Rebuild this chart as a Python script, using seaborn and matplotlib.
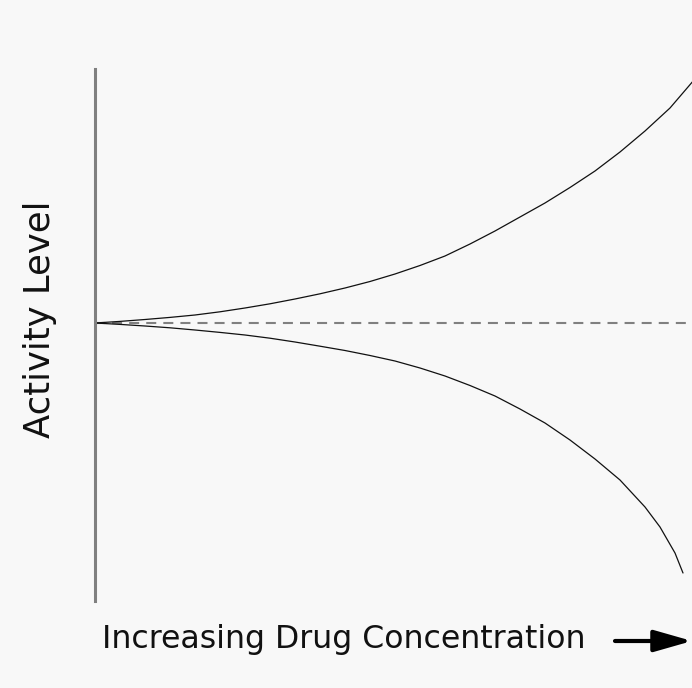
import matplotlib
matplotlib.use("Agg")
import matplotlib.pyplot as plt
import seaborn as sns
import pandas as pd

# Data (x: concentration units, y: activity relative to baseline)
up_x = [0.0, 0.25, 0.5, 0.75, 1.0, 1.25, 1.5, 1.75, 2.0, 2.25, 2.5, 2.75, 3.0, 3.25,
        3.5, 3.75, 4.0, 4.25, 4.5, 4.75, 5.0, 5.25, 5.5, 5.75, 6.05]
up_y = [0.0, 0.016, 0.035, 0.056, 0.08, 0.112, 0.15, 0.192, 0.24, 0.292, 0.35, 0.415,
        0.49, 0.575, 0.67, 0.79, 0.92, 1.06, 1.2, 1.355, 1.52, 1.71, 1.92, 2.15, 2.5]
dn_x = [0.0, 0.25, 0.5, 0.75, 1.0, 1.25, 1.5, 1.75, 2.0, 2.25, 2.5, 2.75, 3.0, 3.25,
        3.5, 3.75, 4.0, 4.25, 4.5, 4.75, 5.0, 5.25, 5.5, 5.65, 5.8, 5.88]
dn_y = [0.0, -0.014, -0.03, -0.048, -0.07, -0.094, -0.12, -0.152, -0.19, -0.232,
        -0.275, -0.325, -0.38, -0.45, -0.53, -0.625, -0.73, -0.86, -1.0, -1.17,
        -1.36, -1.57, -1.84, -2.04, -2.3, -2.5]
baseline = 0.0
xlabel = "Increasing Drug Concentration"
ylabel = "Activity Level"

sns.set_style("white")
plt.rcParams['font.family'] = ['DejaVu Sans']
bg = "#f8f8f8"

W, H = 692, 688
fig = plt.figure(figsize=(W / 100, H / 100), dpi=100, facecolor=bg)
ax = fig.add_axes([95 / W, (H - 601) / H, (W - 95) / W, (601 - 69) / H])
ax.set_facecolor(bg)

df_up = pd.DataFrame({"x": up_x, "y": up_y})
df_dn = pd.DataFrame({"x": dn_x, "y": dn_y})
sns.lineplot(data=df_up, x="x", y="y", ax=ax, color="#111111", lw=0.9, sort=False)
sns.lineplot(data=df_dn, x="x", y="y", ax=ax, color="#111111", lw=0.9, sort=False)
ax.axhline(baseline, color="#808080", lw=1.5, dashes=(4.8, 3.4), zorder=1)

ax.set_xlim(0, 5.97)
ax.set_ylim((323 - 601) / 100, (323 - 69) / 100)
for s in ["top", "right", "bottom"]:
    ax.spines[s].set_visible(False)
ax.spines["left"].set_color("#808080")
ax.spines["left"].set_linewidth(2.2)
ax.set_xticks([])
ax.set_yticks([])
ax.set_xlabel("")
ax.set_ylabel("")

fig.text(40 / W, 1 - 319 / H, ylabel, rotation=90, ha="center", va="center",
         fontsize=25.5, color="#111111")
fig.text(102 / W, 1 - 648 / H, xlabel, ha="left", va="baseline",
         fontsize=22.7, color="#111111")
fig.add_artist(matplotlib.patches.FancyArrowPatch(
    (615 / W, 1 - 641 / H), (692 / W, 1 - 641 / H), transform=fig.transFigure,
    arrowstyle="-|>,head_length=10.5,head_width=3", mutation_scale=2.2,
    color="black", lw=3.0, shrinkA=0, shrinkB=0))

fig.savefig("out.png", dpi=100, facecolor=bg)
